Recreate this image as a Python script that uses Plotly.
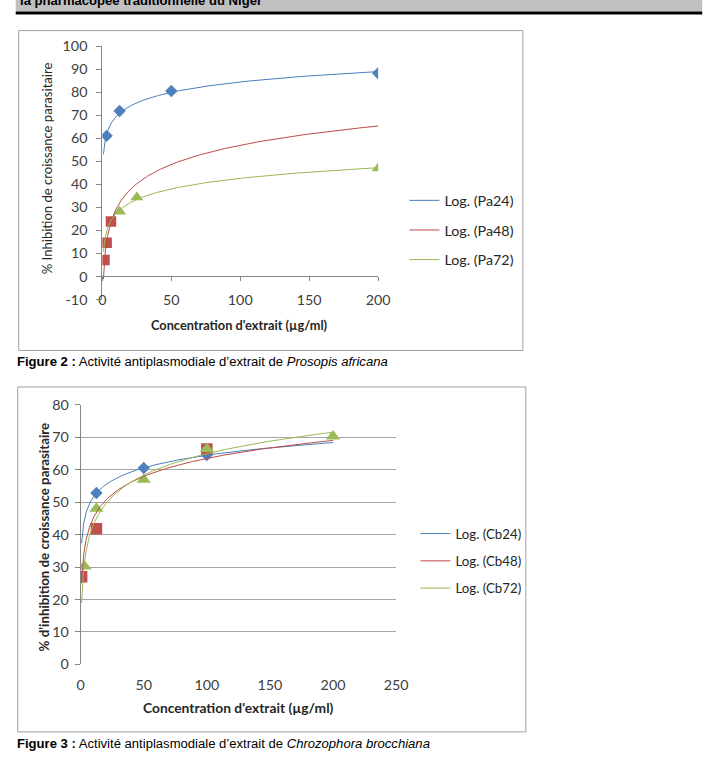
import numpy as np
import plotly.graph_objects as go

W, H = 707, 762
# observed placement of the figure in the photographed window (page px = S * fig px + O)
S = 0.978
OX, OY = 3.3, 8.4

# ---------------- data ----------------
# Figure 2 : Prosopis africana
pa24_conc = [3.125, 12.5, 50, 200]
pa24_inhib = [61.1, 71.9, 80.6, 88.3]
pa48_conc = [1.5625, 3.125, 6.25]
pa48_inhib = [7.2, 14.7, 23.9]
pa72_conc = [12.5, 25, 200]
pa72_inhib = [28.2, 34.4, 47.0]
pa_names = ["Log. (Pa24)", "Log. (Pa48)", "Log. (Pa72)"]

# Figure 3 : Chrozophora brocchiana
cb24_conc = [12.5, 50, 100]
cb24_inhib = [52.8, 60.5, 64.5]
cb48_conc = [0.78125, 12.5, 100]
cb48_inhib = [27.0, 41.8, 66.4]
cb72_conc = [3.125, 12.5, 50, 100, 200]
cb72_inhib = [30.2, 48.0, 56.9, 66.4, 70.3]
cb_names = ["Log. (Cb24)", "Log. (Cb48)", "Log. (Cb72)"]

fig1_yticks = list(range(-10, 101, 10))
fig1_xticks = [0, 50, 100, 150, 200]
fig2_yticks = list(range(0, 81, 10))
fig2_xticks = [0, 50, 100, 150, 200, 250]

trend_start = 0.8
trend_end = 200

# ---------------- styles ----------------
MARK = ["#4f81bd", "#c0504d", "#9bbb59"]
LINE = ["#4a7ebb", "#be4b48", "#98b954"]
SYMB = ["diamond", "square", "triangle-up"]
SIZE1 = [9.5, 10.5, 11.5]
SIZE2 = [9.5, 11.5, 12.5]
FONT = "Lato, Carlito, Calibri, sans-serif"
CAP_FONT = "Liberation Sans, Arial, sans-serif"
GRID = "#a6a6a6"
AX = "#868686"
TXT = "#404040"


def fs(v):
    return v / S


def px(x):
    return ((x - OX) / S) / W


def py(y):
    return 1 - ((y - OY) / S) / H


def trend(xs, ys):
    a, b = np.polyfit(np.log(xs), ys, 1)
    tx = np.geomspace(trend_start, trend_end, 300)
    return tx, a * np.log(tx) + b


fig = go.Figure()

series1 = [(pa24_conc, pa24_inhib), (pa48_conc, pa48_inhib), (pa72_conc, pa72_inhib)]
series2 = [(cb24_conc, cb24_inhib), (cb48_conc, cb48_inhib), (cb72_conc, cb72_inhib)]

for i, (xs, ys) in enumerate(series1):
    fig.add_trace(go.Scatter(x=xs, y=ys, mode="markers", showlegend=False,
                             marker=dict(symbol=SYMB[i], size=SIZE1[i], color=MARK[i],
                                         line=dict(width=0)),
                             xaxis="x", yaxis="y"))
for i, (xs, ys) in enumerate(series1):
    tx, ty = trend(xs, ys)
    fig.add_trace(go.Scatter(x=tx, y=ty, mode="lines", name=pa_names[i],
                             line=dict(color=LINE[i], width=1),
                             legend="legend", legendgroup="a%d" % i,
                             xaxis="x", yaxis="y"))

for i, (xs, ys) in enumerate(series2):
    fig.add_trace(go.Scatter(x=xs, y=ys, mode="markers", showlegend=False,
                             marker=dict(symbol=SYMB[i], size=SIZE2[i], color=MARK[i],
                                         line=dict(width=0)),
                             xaxis="x2", yaxis="y2"))
for i, (xs, ys) in enumerate(series2):
    tx, ty = trend(xs, ys)
    fig.add_trace(go.Scatter(x=tx, y=ty, mode="lines", name=cb_names[i],
                             line=dict(color=LINE[i], width=1),
                             legend="legend2", legendgroup="b%d" % i,
                             xaxis="x2", yaxis="y2"))

# plot-area pixel geometry (page pixels)
c1 = dict(x0=101.7, x1=377.7, ytop=45.7, ybot=299.0)
c2 = dict(x0=80.0, x1=395.7, ytop=404.3, ybot=664.0)
zero1 = c1["ybot"] - (c1["ybot"] - c1["ytop"]) * 10 / 110

tickfont = dict(family=FONT, size=fs(14), color=TXT)

fig.update_layout(
    width=W, height=H, margin=dict(l=0, r=0, t=0, b=0),
    paper_bgcolor="white", plot_bgcolor="rgba(0,0,0,0)",
    showlegend=True,
    xaxis=dict(domain=[px(c1["x0"]), px(c1["x1"])], range=[0, 200],
               tickvals=fig1_xticks, showgrid=False, zeroline=False,
               anchor="free", position=py(zero1),
               showline=True, linecolor=AX, linewidth=1,
               ticks="outside", ticklen=4, tickcolor=AX,
               ticklabelstandoff=6, tickfont=tickfont),
    yaxis=dict(domain=[py(c1["ybot"]), py(c1["ytop"])], range=[-10, 100],
               tickvals=fig1_yticks, ticktext=[str(v) for v in fig1_yticks],
               showgrid=False, zeroline=False,
               anchor="x", showline=True, linecolor=AX, linewidth=1,
               ticks="outside", ticklen=5, tickcolor=AX,
               ticklabelstandoff=6, tickfont=tickfont),
    yaxis3=dict(overlaying="y", anchor="x", range=[-10, 100],
                tickvals=fig1_yticks[1:], showgrid=True, gridcolor=GRID, gridwidth=1,
                showticklabels=False, zeroline=False, showline=False),
    xaxis2=dict(domain=[px(c2["x0"]), px(c2["x1"])], range=[0, 250],
                tickvals=fig2_xticks, showgrid=False, zeroline=False,
                anchor="y2", showline=False,
                ticks="", ticklabelstandoff=10, tickfont=tickfont),
    yaxis2=dict(domain=[py(c2["ybot"]), py(c2["ytop"])], range=[0, 80],
                tickvals=fig2_yticks, showgrid=True, gridcolor=GRID, gridwidth=1,
                zeroline=False, anchor="x2", showline=True, linecolor=AX, linewidth=1,
                ticks="outside", ticklen=5, tickcolor=AX,
                ticklabelstandoff=3, tickfont=tickfont),
    legend=dict(x=px(404), y=py(184), xanchor="left", yanchor="top",
                bgcolor="rgba(0,0,0,0)", tracegroupgap=8,
                font=dict(family=FONT, size=fs(14), color="#262626")),
    legend2=dict(x=px(415), y=py(518), xanchor="left", yanchor="top",
                 bgcolor="rgba(0,0,0,0)", tracegroupgap=7,
                 font=dict(family=FONT, size=fs(13), color="#262626")),
)

shapes = [
    # header band
    dict(type="rect", xref="paper", yref="paper", x0=px(15), x1=px(702), y0=py(-2), y1=py(11),
         fillcolor="#c0c0c0", line=dict(width=0), layer="below"),
    dict(type="line", xref="paper", yref="paper", x0=px(15), x1=px(702), y0=py(12.5), y1=py(12.5),
         line=dict(color="black", width=3)),
    # chart frames
    dict(type="rect", xref="paper", yref="paper", x0=px(18), x1=px(522.5), y0=py(30), y1=py(350),
         line=dict(color="#a0a0a0", width=1), layer="below"),
    dict(type="rect", xref="paper", yref="paper", x0=px(17), x1=px(525.5), y0=py(386.5), y1=py(731.5),
         line=dict(color="#a0a0a0", width=1), layer="below"),
]
fig.update_layout(shapes=shapes)

ann = [
    dict(text="<b>la pharmacopée traditionnelle du Niger</b>", x=px(17), y=py(-0.5),
         xanchor="left", yanchor="middle",
         font=dict(family="Liberation Sans, Arial, sans-serif", size=fs(12.8), color="black")),
    dict(text="% Inhibition de croissance parasitaire", x=px(46), y=py(168), textangle=-90,
         xanchor="center", yanchor="middle",
         font=dict(family=FONT, size=fs(12.8), color="#262626")),
    dict(text="<b>Concentration d'extrait (µg/ml)</b>", x=px(239), y=py(325),
         xanchor="center", yanchor="middle",
         font=dict(family=FONT, size=fs(12.5), color="#262626")),
    dict(text="<b>% d'inhibition de croissance parasitaire</b>", x=px(43.3), y=py(536), textangle=-90,
         xanchor="center", yanchor="middle",
         font=dict(family=FONT, size=fs(13), color="#262626")),
    dict(text="<b>Concentration d'extrait (µg/ml)</b>", x=px(237.5), y=py(706.7),
         xanchor="center", yanchor="middle",
         font=dict(family=FONT, size=fs(13.5), color="#262626")),
    dict(text="<b>Figure 2 :</b> Activité antiplasmodiale d’extrait de <i>Prosopis africana</i>",
         x=px(14.5), y=py(361.5), xanchor="left", yanchor="middle",
         font=dict(family=CAP_FONT, size=fs(12.8), color="black")),
    dict(text="<b>Figure 3 :</b> Activité antiplasmodiale d’extrait de <i>Chrozophora brocchiana</i>",
         x=px(14.5), y=py(743), xanchor="left", yanchor="middle",
         font=dict(family=CAP_FONT, size=fs(12.8), color="black")),
]
for a in ann:
    a.update(xref="paper", yref="paper", showarrow=False)
fig.update_layout(annotations=ann)

fig.write_html("out.html")
